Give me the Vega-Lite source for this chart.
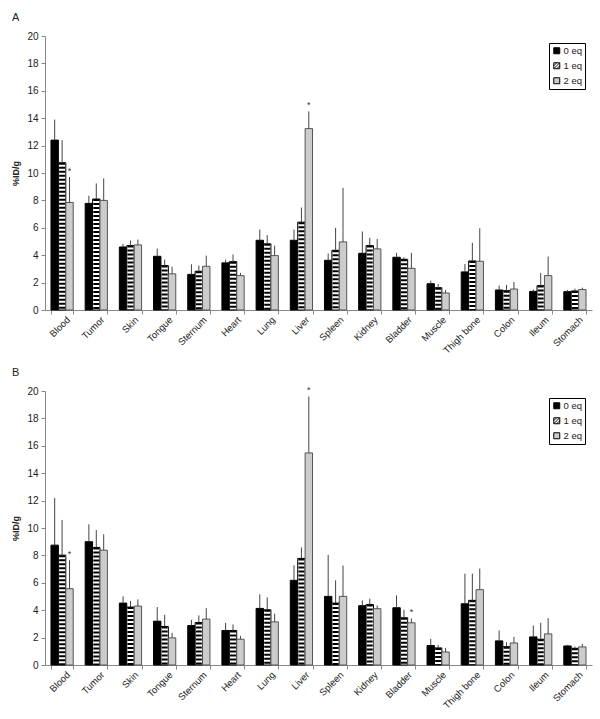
{
  "$schema": "https://vega.github.io/schema/vega-lite/v6.json",
  "padding": {"left": 11, "top": 12, "right": 5, "bottom": 0},
  "config": {
    "font": "Liberation Sans",
    "view": {"stroke": null},
    "axis": {"labelFont": "Liberation Sans", "titleFont": "Liberation Sans", "labelColor": "#222", "titleColor": "#222", "domainColor": "#888", "tickColor": "#888", "grid": false}
  },
  "spacing": 12,
  "resolve": {"legend": {"fill": "independent"}},
  "datasets": {
    "d": [
      {"panel":"A","organ":"Blood","eq":"0 eq","value":12.4,"upper":13.9,"star":""},
      {"panel":"A","organ":"Blood","eq":"1 eq","value":10.75,"upper":12.4,"star":""},
      {"panel":"A","organ":"Blood","eq":"2 eq","value":7.85,"upper":9.7,"star":"*"},
      {"panel":"A","organ":"Tumor","eq":"0 eq","value":7.78,"upper":8.34,"star":""},
      {"panel":"A","organ":"Tumor","eq":"1 eq","value":8.1,"upper":9.24,"star":""},
      {"panel":"A","organ":"Tumor","eq":"2 eq","value":8.0,"upper":9.6,"star":""},
      {"panel":"A","organ":"Skin","eq":"0 eq","value":4.6,"upper":4.83,"star":""},
      {"panel":"A","organ":"Skin","eq":"1 eq","value":4.7,"upper":5.07,"star":""},
      {"panel":"A","organ":"Skin","eq":"2 eq","value":4.75,"upper":5.14,"star":""},
      {"panel":"A","organ":"Tongue","eq":"0 eq","value":3.92,"upper":4.48,"star":""},
      {"panel":"A","organ":"Tongue","eq":"1 eq","value":3.24,"upper":3.68,"star":""},
      {"panel":"A","organ":"Tongue","eq":"2 eq","value":2.64,"upper":3.15,"star":""},
      {"panel":"A","organ":"Sternum","eq":"0 eq","value":2.6,"upper":3.34,"star":""},
      {"panel":"A","organ":"Sternum","eq":"1 eq","value":2.83,"upper":3.24,"star":""},
      {"panel":"A","organ":"Sternum","eq":"2 eq","value":3.19,"upper":3.97,"star":""},
      {"panel":"A","organ":"Heart","eq":"0 eq","value":3.44,"upper":3.68,"star":""},
      {"panel":"A","organ":"Heart","eq":"1 eq","value":3.53,"upper":4.05,"star":""},
      {"panel":"A","organ":"Heart","eq":"2 eq","value":2.51,"upper":2.71,"star":""},
      {"panel":"A","organ":"Lung","eq":"0 eq","value":5.09,"upper":5.87,"star":""},
      {"panel":"A","organ":"Lung","eq":"1 eq","value":4.83,"upper":5.46,"star":""},
      {"panel":"A","organ":"Lung","eq":"2 eq","value":3.97,"upper":4.7,"star":""},
      {"panel":"A","organ":"Liver","eq":"0 eq","value":5.09,"upper":5.87,"star":""},
      {"panel":"A","organ":"Liver","eq":"1 eq","value":6.41,"upper":7.48,"star":""},
      {"panel":"A","organ":"Liver","eq":"2 eq","value":13.24,"upper":14.5,"star":"*"},
      {"panel":"A","organ":"Spleen","eq":"0 eq","value":3.63,"upper":4.12,"star":""},
      {"panel":"A","organ":"Spleen","eq":"1 eq","value":4.36,"upper":6.0,"star":""},
      {"panel":"A","organ":"Spleen","eq":"2 eq","value":4.97,"upper":8.92,"star":""},
      {"panel":"A","organ":"Kidney","eq":"0 eq","value":4.14,"upper":5.73,"star":""},
      {"panel":"A","organ":"Kidney","eq":"1 eq","value":4.7,"upper":5.27,"star":""},
      {"panel":"A","organ":"Kidney","eq":"2 eq","value":4.46,"upper":5.19,"star":""},
      {"panel":"A","organ":"Bladder","eq":"0 eq","value":3.85,"upper":4.17,"star":""},
      {"panel":"A","organ":"Bladder","eq":"1 eq","value":3.7,"upper":3.85,"star":""},
      {"panel":"A","organ":"Bladder","eq":"2 eq","value":3.04,"upper":4.17,"star":""},
      {"panel":"A","organ":"Muscle","eq":"0 eq","value":1.92,"upper":2.14,"star":""},
      {"panel":"A","organ":"Muscle","eq":"1 eq","value":1.63,"upper":1.9,"star":""},
      {"panel":"A","organ":"Muscle","eq":"2 eq","value":1.24,"upper":1.46,"star":""},
      {"panel":"A","organ":"Thigh bone","eq":"0 eq","value":2.78,"upper":3.36,"star":""},
      {"panel":"A","organ":"Thigh bone","eq":"1 eq","value":3.58,"upper":4.9,"star":""},
      {"panel":"A","organ":"Thigh bone","eq":"2 eq","value":3.56,"upper":5.97,"star":""},
      {"panel":"A","organ":"Colon","eq":"0 eq","value":1.46,"upper":1.78,"star":""},
      {"panel":"A","organ":"Colon","eq":"1 eq","value":1.41,"upper":1.83,"star":""},
      {"panel":"A","organ":"Colon","eq":"2 eq","value":1.53,"upper":2.05,"star":""},
      {"panel":"A","organ":"Ileum","eq":"0 eq","value":1.36,"upper":1.49,"star":""},
      {"panel":"A","organ":"Ileum","eq":"1 eq","value":1.78,"upper":2.71,"star":""},
      {"panel":"A","organ":"Ileum","eq":"2 eq","value":2.51,"upper":3.9,"star":""},
      {"panel":"A","organ":"Stomach","eq":"0 eq","value":1.34,"upper":1.46,"star":""},
      {"panel":"A","organ":"Stomach","eq":"1 eq","value":1.39,"upper":1.56,"star":""},
      {"panel":"A","organ":"Stomach","eq":"2 eq","value":1.49,"upper":1.63,"star":""},
      {"panel":"B","organ":"Blood","eq":"0 eq","value":8.75,"upper":12.2,"star":""},
      {"panel":"B","organ":"Blood","eq":"1 eq","value":8.02,"upper":10.59,"star":""},
      {"panel":"B","organ":"Blood","eq":"2 eq","value":5.57,"upper":7.65,"star":"*"},
      {"panel":"B","organ":"Tumor","eq":"0 eq","value":9.0,"upper":10.27,"star":""},
      {"panel":"B","organ":"Tumor","eq":"1 eq","value":8.58,"upper":9.85,"star":""},
      {"panel":"B","organ":"Tumor","eq":"2 eq","value":8.38,"upper":9.54,"star":""},
      {"panel":"B","organ":"Skin","eq":"0 eq","value":4.52,"upper":5.01,"star":""},
      {"panel":"B","organ":"Skin","eq":"1 eq","value":4.23,"upper":4.67,"star":""},
      {"panel":"B","organ":"Skin","eq":"2 eq","value":4.3,"upper":4.79,"star":""},
      {"panel":"B","organ":"Tongue","eq":"0 eq","value":3.2,"upper":4.23,"star":""},
      {"panel":"B","organ":"Tongue","eq":"1 eq","value":2.81,"upper":3.67,"star":""},
      {"panel":"B","organ":"Tongue","eq":"2 eq","value":1.98,"upper":2.35,"star":""},
      {"panel":"B","organ":"Sternum","eq":"0 eq","value":2.88,"upper":3.3,"star":""},
      {"panel":"B","organ":"Sternum","eq":"1 eq","value":3.1,"upper":3.62,"star":""},
      {"panel":"B","organ":"Sternum","eq":"2 eq","value":3.35,"upper":4.15,"star":""},
      {"panel":"B","organ":"Heart","eq":"0 eq","value":2.52,"upper":3.08,"star":""},
      {"panel":"B","organ":"Heart","eq":"1 eq","value":2.52,"upper":2.96,"star":""},
      {"panel":"B","organ":"Heart","eq":"2 eq","value":1.88,"upper":2.13,"star":""},
      {"panel":"B","organ":"Lung","eq":"0 eq","value":4.13,"upper":5.16,"star":""},
      {"panel":"B","organ":"Lung","eq":"1 eq","value":4.03,"upper":4.94,"star":""},
      {"panel":"B","organ":"Lung","eq":"2 eq","value":3.15,"upper":3.74,"star":""},
      {"panel":"B","organ":"Liver","eq":"0 eq","value":6.18,"upper":7.28,"star":""},
      {"panel":"B","organ":"Liver","eq":"1 eq","value":7.78,"upper":8.58,"star":""},
      {"panel":"B","organ":"Liver","eq":"2 eq","value":15.48,"upper":19.6,"star":"*"},
      {"panel":"B","organ":"Spleen","eq":"0 eq","value":5.01,"upper":8.04,"star":""},
      {"panel":"B","organ":"Spleen","eq":"1 eq","value":4.52,"upper":6.18,"star":""},
      {"panel":"B","organ":"Spleen","eq":"2 eq","value":5.01,"upper":7.26,"star":""},
      {"panel":"B","organ":"Kidney","eq":"0 eq","value":4.33,"upper":4.72,"star":""},
      {"panel":"B","organ":"Kidney","eq":"1 eq","value":4.42,"upper":4.84,"star":""},
      {"panel":"B","organ":"Kidney","eq":"2 eq","value":4.11,"upper":4.35,"star":""},
      {"panel":"B","organ":"Bladder","eq":"0 eq","value":4.18,"upper":5.08,"star":""},
      {"panel":"B","organ":"Bladder","eq":"1 eq","value":3.45,"upper":4.03,"star":""},
      {"panel":"B","organ":"Bladder","eq":"2 eq","value":3.08,"upper":3.4,"star":"*"},
      {"panel":"B","organ":"Muscle","eq":"0 eq","value":1.42,"upper":1.91,"star":""},
      {"panel":"B","organ":"Muscle","eq":"1 eq","value":1.25,"upper":1.47,"star":""},
      {"panel":"B","organ":"Muscle","eq":"2 eq","value":0.95,"upper":1.25,"star":""},
      {"panel":"B","organ":"Thigh bone","eq":"0 eq","value":4.47,"upper":6.67,"star":""},
      {"panel":"B","organ":"Thigh bone","eq":"1 eq","value":4.72,"upper":6.67,"star":""},
      {"panel":"B","organ":"Thigh bone","eq":"2 eq","value":5.5,"upper":7.04,"star":""},
      {"panel":"B","organ":"Colon","eq":"0 eq","value":1.76,"upper":2.52,"star":""},
      {"panel":"B","organ":"Colon","eq":"1 eq","value":1.34,"upper":1.66,"star":""},
      {"panel":"B","organ":"Colon","eq":"2 eq","value":1.61,"upper":2.05,"star":""},
      {"panel":"B","organ":"Ileum","eq":"0 eq","value":2.05,"upper":2.88,"star":""},
      {"panel":"B","organ":"Ileum","eq":"1 eq","value":1.88,"upper":3.08,"star":""},
      {"panel":"B","organ":"Ileum","eq":"2 eq","value":2.27,"upper":3.42,"star":""},
      {"panel":"B","organ":"Stomach","eq":"0 eq","value":1.39,"upper":1.47,"star":""},
      {"panel":"B","organ":"Stomach","eq":"1 eq","value":1.22,"upper":1.34,"star":""},
      {"panel":"B","organ":"Stomach","eq":"2 eq","value":1.32,"upper":1.54,"star":""}
    ]
  },
  "vconcat": [
    {
      "title": {"text": "A", "anchor": "start", "frame": "group", "fontSize": 11, "fontWeight": "normal", "color": "#222", "dx": -33, "offset": 8},
      "width": 547, "height": 274,
      "data": {"name": "d"},
      "transform": [{"filter": "datum.panel === 'A'"}],
      "encoding": {
        "x": {"field": "organ", "type": "nominal", "sort": null,
          "scale": {"paddingInner": 0.35, "paddingOuter": 0.175},
          "axis": {"title": null, "labelAngle": -45, "labelAlign": "right", "labelBaseline": "middle", "labelFontSize": 9.5, "labelOffset": 6, "labelPadding": 4, "tickBand": "extent", "tickSize": 4, "labelOverlap": false}},
        "xOffset": {"field": "eq", "type": "nominal", "scale": {"domain": ["0 eq", "1 eq", "2 eq"], "paddingInner": 0, "paddingOuter": 0}},
        "y": {"field": "value", "type": "quantitative",
          "scale": {"domain": [0, 20], "nice": false},
          "axis": {"title": "%ID/g", "titleFontSize": 9, "titleFontWeight": "bold", "titlePadding": 6, "values": [0,2,4,6,8,10,12,14,16,18,20], "labelFontSize": 10, "tickSize": 4, "labelPadding": 3}}
      },
      "layer": [
        {
          "mark": {"type": "bar", "strokeWidth": 1},
          "encoding": {
            "fill": {"field": "eq", "type": "nominal",
              "scale": {"domain": ["0 eq", "1 eq", "2 eq"], "range": ["#000000", "#ffffff", "#cccccc"]},
              "legend": {"title": null, "orient": "top-right", "offset": 7, "strokeColor": "#000", "padding": 3, "symbolType": "square", "symbolSize": 36, "symbolStrokeColor": "#000", "symbolStrokeWidth": 1, "labelFontSize": 9.5, "labelColor": "#222", "rowPadding": 4, "labelOffset": 2,
                "encode": {"symbols": {"update": {
                  "shape": [{"test": "datum.label === '1 eq'", "value": "M-1,-1H1V1H-1Z M-1,0L0,-1 M-1,1L1,-1 M0,1L1,0"}, {"value": "square"}],
                  "stroke": {"value": "#000"}
                }}}}},
            "stroke": {"condition": {"test": "datum.eq === '2 eq'", "value": "#555"}, "value": "#000"}
          }
        },
        {
          "transform": [{"filter": "datum.eq === '1 eq'"}],
          "mark": {"type": "rule", "strokeWidth": 6, "strokeDash": [2, 2], "color": "#000"},
          "encoding": {"y2": {"datum": 0}}
        },
        {
          "mark": {"type": "rule", "strokeWidth": 1, "color": "#444"},
          "encoding": {"y2": {"field": "upper"}}
        },
        {
          "transform": [{"filter": "datum.star === '*'"}],
          "mark": {"type": "text", "baseline": "bottom", "dy": -1, "fontSize": 9, "color": "#333"},
          "encoding": {"y": {"field": "upper", "type": "quantitative"}, "text": {"field": "star"}}
        }
      ]
    },
    {
      "title": {"text": "B", "anchor": "start", "frame": "group", "fontSize": 11, "fontWeight": "normal", "color": "#222", "dx": -33, "offset": 8},
      "width": 547, "height": 274,
      "data": {"name": "d"},
      "transform": [{"filter": "datum.panel === 'B'"}],
      "encoding": {
        "x": {"field": "organ", "type": "nominal", "sort": null,
          "scale": {"paddingInner": 0.35, "paddingOuter": 0.175},
          "axis": {"title": null, "labelAngle": -45, "labelAlign": "right", "labelBaseline": "middle", "labelFontSize": 9.5, "labelOffset": 6, "labelPadding": 4, "tickBand": "extent", "tickSize": 4, "labelOverlap": false}},
        "xOffset": {"field": "eq", "type": "nominal", "scale": {"domain": ["0 eq", "1 eq", "2 eq"], "paddingInner": 0, "paddingOuter": 0}},
        "y": {"field": "value", "type": "quantitative",
          "scale": {"domain": [0, 20], "nice": false},
          "axis": {"title": "%ID/g", "titleFontSize": 9, "titleFontWeight": "bold", "titlePadding": 6, "values": [0,2,4,6,8,10,12,14,16,18,20], "labelFontSize": 10, "tickSize": 4, "labelPadding": 3}}
      },
      "layer": [
        {
          "mark": {"type": "bar", "strokeWidth": 1},
          "encoding": {
            "fill": {"field": "eq", "type": "nominal",
              "scale": {"domain": ["0 eq", "1 eq", "2 eq"], "range": ["#000000", "#ffffff", "#cccccc"]},
              "legend": {"title": null, "orient": "top-right", "offset": 7, "strokeColor": "#000", "padding": 3, "symbolType": "square", "symbolSize": 36, "symbolStrokeColor": "#000", "symbolStrokeWidth": 1, "labelFontSize": 9.5, "labelColor": "#222", "rowPadding": 4, "labelOffset": 2,
                "encode": {"symbols": {"update": {
                  "shape": [{"test": "datum.label === '1 eq'", "value": "M-1,-1H1V1H-1Z M-1,0L0,-1 M-1,1L1,-1 M0,1L1,0"}, {"value": "square"}],
                  "stroke": {"value": "#000"}
                }}}}},
            "stroke": {"condition": {"test": "datum.eq === '2 eq'", "value": "#555"}, "value": "#000"}
          }
        },
        {
          "transform": [{"filter": "datum.eq === '1 eq'"}],
          "mark": {"type": "rule", "strokeWidth": 6, "strokeDash": [2, 2], "color": "#000"},
          "encoding": {"y2": {"datum": 0}}
        },
        {
          "mark": {"type": "rule", "strokeWidth": 1, "color": "#444"},
          "encoding": {"y2": {"field": "upper"}}
        },
        {
          "transform": [{"filter": "datum.star === '*'"}],
          "mark": {"type": "text", "baseline": "bottom", "dy": -1, "fontSize": 9, "color": "#333"},
          "encoding": {"y": {"field": "upper", "type": "quantitative"}, "text": {"field": "star"}}
        }
      ]
    }
  ]
}
